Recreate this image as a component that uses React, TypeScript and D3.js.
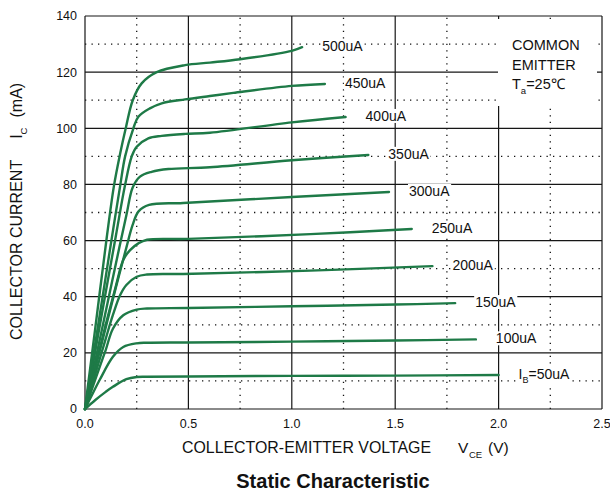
import React, { useLayoutEffect, useRef, useState } from "react";
import * as d3 from "d3";

// axis ticks
const xTicks = [0, 0.5, 1.0, 1.5, 2.0, 2.5];
const xMinor = [0.25, 0.75, 1.25, 1.75, 2.25];
const yTicks = [0, 20, 40, 60, 80, 100, 120, 140];
const yMinor = [10, 30, 50, 70, 90, 110, 130];

// curves: [VCE (V), IC (mA)]
const ib50: [number, number][] = [
    [0, 0], [0.05, 3.2], [0.1, 6.1], [0.135, 7.9], [0.2, 10.6], [0.25, 11.4], [0.3, 11.5],
    [0.5, 11.6], [1.0, 11.8], [1.5, 11.9], [2.0, 12.1],
];
const ib100: [number, number][] = [
    [0, 0], [0.035, 5.2], [0.072, 10.5], [0.135, 18.6], [0.185, 22.1], [0.25, 23.4], [0.3, 23.6],
    [0.5, 23.7], [1.0, 24.0], [1.5, 24.4], [1.89, 24.8],
];
const ib150: [number, number][] = [
    [0, 0], [0.036, 7.6], [0.072, 15.2], [0.1, 21], [0.135, 28.6], [0.185, 33.4], [0.25, 35.4],
    [0.3, 35.8], [0.5, 36.0], [1.0, 36.6], [1.5, 37.2], [1.79, 37.7],
];
const ib200: [number, number][] = [
    [0, 0], [0.05, 12.5], [0.1, 25], [0.135, 33.5], [0.17, 40.6], [0.2, 44.2], [0.25, 47.1],
    [0.3, 47.9], [0.475, 48.1], [1.09, 49.3], [1.68, 50.9],
];
const ib250: [number, number][] = [
    [0, 0], [0.05, 15], [0.1, 30], [0.15, 44], [0.185, 53.1], [0.218, 56.6], [0.258, 59],
    [0.3, 60.3], [0.5, 60.6], [1.09, 62.3], [1.58, 64.1],
];
const ib300: [number, number][] = [
    [0, 0], [0.05, 14.5], [0.1, 29], [0.15, 43.5], [0.2, 57.5], [0.23, 65.5], [0.26, 70.5],
    [0.31, 72.7], [0.475, 73.4], [1.0, 75.5], [1.47, 77.3],
];
const ib350: [number, number][] = [
    [0, 0], [0.05, 17.3], [0.1, 34.6], [0.15, 52], [0.2, 69], [0.231, 79], [0.266, 82.8],
    [0.322, 84.5], [0.403, 85.5], [0.604, 86.1], [1.0, 88.6], [1.37, 90.5],
];
const ib400: [number, number][] = [
    [0, 0], [0.05, 20.7], [0.1, 41.5], [0.15, 62], [0.193, 79.5], [0.226, 90], [0.25, 93.4],
    [0.306, 96.4], [0.371, 97.3], [0.484, 98], [0.604, 98.4], [1.0, 102.1], [1.26, 104],
];
const ib450: [number, number][] = [
    [0, 0], [0.05, 23.5], [0.1, 47], [0.136, 63.9], [0.17, 79.5], [0.194, 90], [0.234, 100],
    [0.258, 104.1], [0.314, 107.1], [0.371, 108.9], [0.484, 110.3], [0.604, 111.5],
    [0.717, 112.6], [1.0, 115.1], [1.16, 115.8],
];
const ib500: [number, number][] = [
    [0, 0], [0.05, 29], [0.105, 61], [0.14, 79.5], [0.17, 91], [0.197, 100], [0.231, 110],
    [0.274, 116], [0.347, 120], [0.484, 122.5], [0.604, 123.4], [0.75, 124.6], [1.0, 127.6],
    [1.05, 128.9],
];

const series = [
    { name: "50uA", prefix: true, values: ib50 },
    { name: "100uA", prefix: false, values: ib100 },
    { name: "150uA", prefix: false, values: ib150 },
    { name: "200uA", prefix: false, values: ib200 },
    { name: "250uA", prefix: false, values: ib250 },
    { name: "300uA", prefix: false, values: ib300 },
    { name: "350uA", prefix: false, values: ib350 },
    { name: "400uA", prefix: false, values: ib400 },
    { name: "450uA", prefix: false, values: ib450 },
    { name: "500uA", prefix: false, values: ib500 },
];

const width = 610;
const height = 491;
const margin = { top: 16, right: 8, bottom: 82, left: 85 };
const font = "'Liberation Sans', Arial, sans-serif";
const green = "#1e7a47";

const Label = ({ x, y, children }: { x: number; y: number; children: React.ReactNode }) => {
    const ref = useRef<SVGTextElement>(null);
    const [box, setBox] = useState<{ x: number; y: number; w: number; h: number } | null>(null);
    useLayoutEffect(() => {
        if (!ref.current) return;
        const b = ref.current.getBBox();
        setBox({ x: b.x, y: b.y, w: b.width, h: b.height });
    }, []);
    return (
        <g>
            {box && <rect x={box.x - 1} y={box.y + 1} width={box.w + 2} height={box.h - 2} fill="#fff" />}
            <text ref={ref} x={x} y={y} dy="0.35em" fontSize={14} fill="#111">
                {children}
            </text>
        </g>
    );
};

const App = () => {
    const x = d3.scaleLinear().domain([0, 2.5]).range([margin.left, width - margin.right]);
    const y = d3.scaleLinear().domain([0, 140]).range([height - margin.bottom, margin.top]);

    const line = d3
        .line<[number, number]>()
        .x((d) => x(d[0]))
        .y((d) => y(d[1]))
        .curve(d3.curveCatmullRom.alpha(0.5));

    return (
        <svg
            width={width}
            height={height}
            style={{ position: "absolute", left: 0, top: 0, background: "#fff" }}
            fontFamily={font}
        >
            {/* dotted grid */}
            <g stroke="#111" strokeWidth={1.3} strokeDasharray="1.3,5.2">
                {yMinor.map((t) => (
                    <line key={"ym" + t} x1={x(0)} x2={x(2.5)} y1={y(t)} y2={y(t)} />
                ))}
                {xMinor.map((t) => (
                    <line key={"xm" + t} x1={x(t)} x2={x(t)} y1={y(0)} y2={y(140)} />
                ))}
            </g>
            {/* solid grid */}
            <g stroke="#161616" strokeWidth={1.2}>
                {yTicks.map((t) => (
                    <line key={"y" + t} x1={x(0)} x2={x(2.5)} y1={y(t)} y2={y(t)} />
                ))}
                {xTicks.map((t) => (
                    <line key={"x" + t} x1={x(t)} x2={x(t)} y1={y(0)} y2={y(140)} />
                ))}
            </g>

            {/* note box */}
            <rect x={498} y={19} width={99} height={87} fill="#fff" />
            <g fontSize={14.5} fill="#111">
                <text x={512} y={50}>COMMON</text>
                <text x={512} y={69.5}>EMITTER</text>
                <text x={512} y={89}>
                    T<tspan fontSize={9.5} dy={5}>a</tspan>
                    <tspan dy={-5}>=25℃</tspan>
                </text>
            </g>

            {/* curves */}
            <g fill="none" stroke={green} strokeWidth={2.4} strokeLinejoin="round" strokeLinecap="round">
                {series.map((s) => (
                    <path key={s.name} d={line(s.values) || ""} />
                ))}
            </g>

            {/* curve labels */}
            {series.map((s) => {
                const last = s.values[s.values.length - 1];
                return (
                    <Label key={"l" + s.name} x={x(last[0]) + 20} y={y(last[1]) - 1}>
                        {s.prefix ? (
                            <>
                                I<tspan fontSize={9} dy={4}>B</tspan>
                                <tspan dy={-4}>={s.name}</tspan>
                            </>
                        ) : (
                            s.name
                        )}
                    </Label>
                );
            })}

            {/* tick labels */}
            <g fontSize={12.5} fill="#111">
                {xTicks.map((t) => (
                    <text key={"xt" + t} x={x(t)} y={428} textAnchor="middle">
                        {t.toFixed(1)}
                    </text>
                ))}
                {yTicks.map((t) => (
                    <text key={"yt" + t} x={77} y={y(t)} dy="0.35em" textAnchor="end">
                        {t}
                    </text>
                ))}
            </g>

            {/* axis titles */}
            <g fontSize={15.5} fill="#111">
                <text x={182} y={453} fontSize={15.9}>COLLECTOR-EMITTER VOLTAGE</text>
                <text x={458} y={453}>V</text>
                <text x={469} y={458} fontSize={9.5}>CE</text>
                <text x={488} y={453}>(V)</text>
                <text transform="translate(22,340) rotate(-90)" fontSize={16}>
                    COLLECTOR CURRENT
                    <tspan dx={21}>I</tspan>
                    <tspan fontSize={9.5} dy={5}>C</tspan>
                    <tspan dx={10} dy={-5}>(mA)</tspan>
                </text>
            </g>
            <text x={333} y={488} textAnchor="middle" fontSize={20} fontWeight="bold" fill="#111">
                Static Characteristic
            </text>
        </svg>
    );
};

export default App;
